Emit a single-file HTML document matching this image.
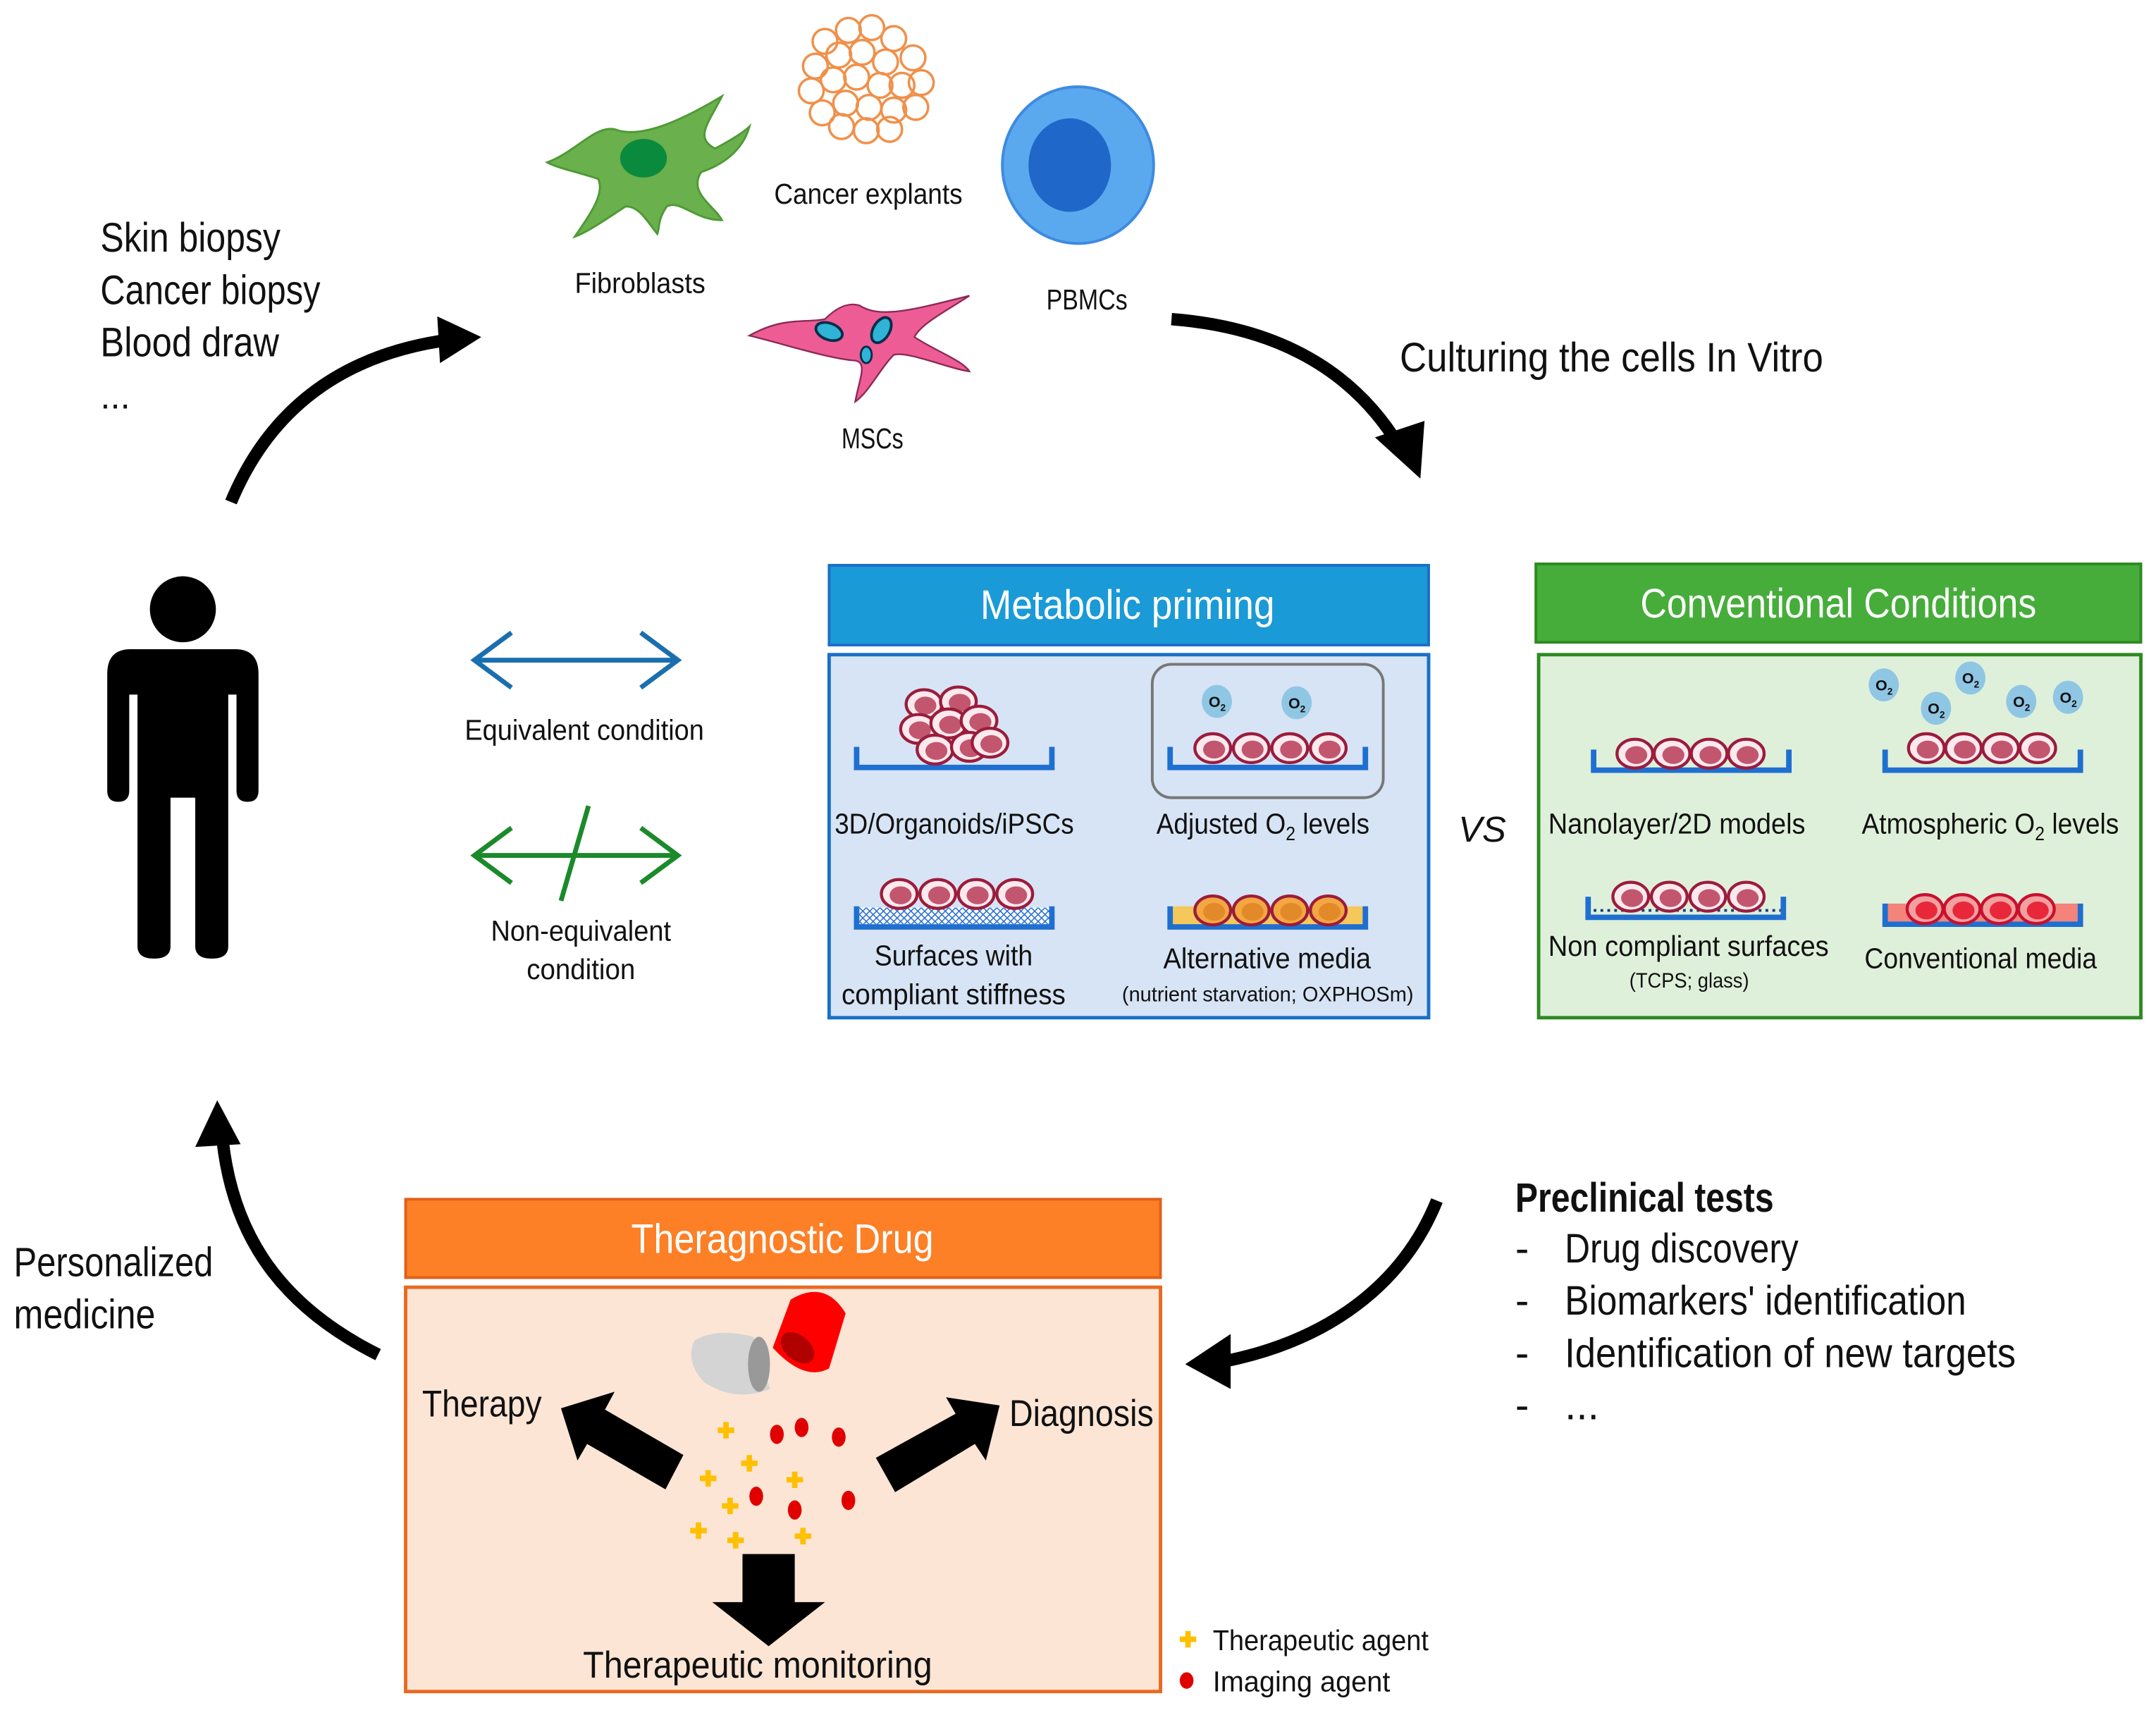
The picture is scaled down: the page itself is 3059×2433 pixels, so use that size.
<!DOCTYPE html>
<html><head><meta charset="utf-8"><style>
html,body{margin:0;padding:0;background:#fff}
svg{display:block}
text{font-family:"Liberation Sans Narrow","Liberation Sans",sans-serif;fill:#111}
</style></head><body>
<svg width="3059" height="2433" viewBox="0 0 1568 1247" xmlns="http://www.w3.org/2000/svg">
<defs>
<g id="cell"><ellipse cx="0" cy="0" rx="13" ry="10.5" fill="#fbe9ee" stroke="#9b1c3c" stroke-width="2.2"/><ellipse cx="1" cy="1" rx="8" ry="6.5" fill="#c2566f"/></g>
<g id="cello"><ellipse cx="0" cy="0" rx="13" ry="10.5" fill="#f4a640" stroke="#9b1c3c" stroke-width="2.2"/><ellipse cx="1" cy="1" rx="8" ry="6.5" fill="#e28a2a"/></g>
<g id="cellr"><ellipse cx="0" cy="0" rx="13" ry="10.5" fill="#f2a0a0" stroke="#c8102e" stroke-width="2.2"/><ellipse cx="1" cy="1" rx="8" ry="6.5" fill="#e8283a"/></g>
<g id="o2"><ellipse cx="0" cy="0" rx="11" ry="12" fill="#8fc6e4"/><text x="-6" y="4" style="font-size:11px;font-weight:bold">O<tspan style="font-size:7px" dy="3">2</tspan></text></g>
<pattern id="hatch" width="5" height="5" patternUnits="userSpaceOnUse"><rect width="5" height="5" fill="#fff"/><path d="M0,0L5,5M5,0L0,5" stroke="#2a6fd0" stroke-width="0.8"/></pattern>
<g id="dish"><path d="M0,0 V15 H142 V0" fill="none" stroke="#1f6fd0" stroke-width="4"/></g>
<g id="plus"><path d="M-2,-6h4v4h4v4h-4v4h-4v-4h-4v-4h4z" fill="#ffc000"/></g>
</defs>

<!-- cells at top -->
<path d="M398,118 C420,110 435,88 450,95 C470,100 500,85 525,70 C515,90 505,100 520,108 C535,100 542,95 545,92 C540,110 525,120 510,125 C500,140 520,150 525,160 C505,160 495,145 485,150 C478,160 480,165 478,170 C470,160 465,150 455,150 C440,160 425,170 418,172 C430,155 440,140 435,130 C420,125 405,122 398,118Z" fill="#6ab04c" stroke="#4e9a36" stroke-width="1.5"/>
<ellipse cx="468" cy="115" rx="17" ry="14" fill="#0a8a3c"/>
<g fill="none" stroke="#f0904a" stroke-width="1.8">
<circle cx="600" cy="30" r="9"/><circle cx="617" cy="22" r="9"/><circle cx="634" cy="20" r="9"/><circle cx="650" cy="28" r="9"/><circle cx="664" cy="42" r="9"/><circle cx="593" cy="48" r="9"/><circle cx="610" cy="40" r="9"/><circle cx="627" cy="38" r="9"/><circle cx="644" cy="45" r="9"/><circle cx="670" cy="60" r="9"/><circle cx="590" cy="66" r="9"/><circle cx="606" cy="58" r="9"/><circle cx="623" cy="56" r="9"/><circle cx="640" cy="62" r="9"/><circle cx="656" cy="62" r="9"/><circle cx="598" cy="82" r="9"/><circle cx="615" cy="75" r="9"/><circle cx="632" cy="78" r="9"/><circle cx="650" cy="80" r="9"/><circle cx="666" cy="78" r="9"/><circle cx="612" cy="92" r="9"/><circle cx="630" cy="95" r="9"/><circle cx="647" cy="94" r="9"/>
</g>
<ellipse cx="784" cy="120" rx="55" ry="57" fill="#5aa8ee" stroke="#3d8ae0" stroke-width="2"/>
<ellipse cx="778" cy="120" rx="30" ry="34" fill="#1f68c9"/>
<path d="M545,244 C570,230 585,235 600,232 C610,222 618,220 625,222 C640,232 665,225 705,215 C690,225 670,235 665,245 C680,255 700,262 705,270 C690,268 660,255 650,258 C640,268 632,285 622,292 C625,275 632,262 620,262 C600,260 570,250 545,244Z" fill="#ee5c96" stroke="#8a2a55" stroke-width="1.2"/>
<ellipse cx="603" cy="241" rx="10" ry="6" fill="#2fb4d8" stroke="#0b2d4a" stroke-width="2" transform="rotate(20 603 241)"/>
<ellipse cx="641" cy="240" rx="6" ry="10" fill="#2fb4d8" stroke="#0b2d4a" stroke-width="2" transform="rotate(30 641 240)"/>
<ellipse cx="630" cy="258" rx="4" ry="6" fill="#2fb4d8" stroke="#0b2d4a" stroke-width="1.5"/>

<text x="418" y="213" textLength="95" lengthAdjust="spacingAndGlyphs" style="font-size:21px">Fibroblasts</text>
<text x="563" y="148" textLength="137" lengthAdjust="spacingAndGlyphs" style="font-size:21px">Cancer explants</text>
<text x="761" y="225" textLength="59" lengthAdjust="spacingAndGlyphs" style="font-size:21px">PBMCs</text>
<text x="612" y="326" textLength="45" lengthAdjust="spacingAndGlyphs" style="font-size:21px">MSCs</text>

<text x="73" y="183" textLength="131" lengthAdjust="spacingAndGlyphs" style="font-size:30px">Skin biopsy</text>
<text x="73" y="221" textLength="160" lengthAdjust="spacingAndGlyphs" style="font-size:30px">Cancer biopsy</text>
<text x="73" y="259" textLength="130" lengthAdjust="spacingAndGlyphs" style="font-size:30px">Blood draw</text>
<text x="73" y="297" style="font-size:26px">...</text>
<text x="1018" y="270" textLength="308" lengthAdjust="spacingAndGlyphs" style="font-size:30px">Culturing the cells In Vitro</text>

<!-- curved arrows -->
<g fill="none" stroke="#000" stroke-width="9">
<path d="M168,365 C195,300 245,260 320,248"/>
<path d="M852,232 C930,238 985,270 1018,325"/>
<path d="M1045,873 C1020,935 965,975 890,990"/>
<path d="M275,985 C205,950 170,900 162,830"/>
</g>
<path d="M318,230 L350,245 L320,264Z" fill="#000"/>
<path d="M1000,318 L1033,348 L1036,306Z" fill="#000"/>
<path d="M895,970 L862,992 L895,1010Z" fill="#000"/>
<path d="M142,834 L158,800 L175,832Z" fill="#000"/>

<!-- person -->
<circle cx="133" cy="443" r="24" fill="#000"/>
<path d="M95,472 H171 Q188,472 188,490 V575 Q188,583 180,583 Q172,583 172,575 V505 H166 V688 Q166,697 154,697 Q142,697 142,688 V580 H124 V688 Q124,697 112,697 Q100,697 100,688 V505 H94 V575 Q94,583 86,583 Q78,583 78,575 V490 Q78,472 95,472Z" fill="#000"/>

<!-- equivalence arrows -->
<g fill="none" stroke="#1b6fae" stroke-width="3.5"><path d="M348,480 H490"/><path d="M372,460 L345,480 L372,500"/><path d="M466,460 L493,480 L466,500"/></g>
<text x="338" y="538" textLength="174" lengthAdjust="spacingAndGlyphs" style="font-size:21px">Equivalent condition</text>
<g fill="none" stroke="#1b8a2a" stroke-width="3.5"><path d="M348,622 H490"/><path d="M372,602 L345,622 L372,642"/><path d="M466,602 L493,622 L466,642"/><path d="M408,655 L428,586"/></g>
<text x="357" y="684" textLength="131" lengthAdjust="spacingAndGlyphs" style="font-size:21px">Non-equivalent</text>
<text x="383" y="712" textLength="79" lengthAdjust="spacingAndGlyphs" style="font-size:21px">condition</text>

<!-- Metabolic priming -->
<rect x="603" y="411" width="436" height="58" fill="#1a9ad6" stroke="#1a6fc8" stroke-width="2"/>
<text x="713" y="450" textLength="214" lengthAdjust="spacingAndGlyphs" style="font-size:30px;fill:#fff">Metabolic priming</text>
<rect x="603" y="476" width="436" height="264" fill="#d7e4f5" stroke="#1a6fc8" stroke-width="2.5"/>
<use href="#dish" x="623" y="543"/>
<g><use href="#cell" x="672" y="512"/><use href="#cell" x="697" y="510"/><use href="#cell" x="668" y="530"/><use href="#cell" x="690" y="526"/><use href="#cell" x="712" y="524"/><use href="#cell" x="680" y="545"/><use href="#cell" x="705" y="543"/><use href="#cell" x="720" y="540"/></g>
<text x="607" y="606" textLength="174" lengthAdjust="spacingAndGlyphs" style="font-size:21px">3D/Organoids/iPSCs</text>
<rect x="838" y="483" width="168" height="97" rx="14" fill="none" stroke="#777" stroke-width="2"/>
<use href="#o2" x="885" y="510"/><use href="#o2" x="943" y="511"/>
<use href="#dish" x="851" y="543"/>
<use href="#cell" x="882" y="544"/><use href="#cell" x="910" y="544"/><use href="#cell" x="938" y="544"/><use href="#cell" x="966" y="544"/>
<text x="841" y="606" textLength="155" lengthAdjust="spacingAndGlyphs" style="font-size:21px">Adjusted O<tspan style="font-size:14px" dy="5">2</tspan><tspan dy="-5"> levels</tspan></text>
<rect x="625" y="660" width="138" height="12" fill="url(#hatch)"/>
<use href="#dish" x="623" y="659"/>
<use href="#cell" x="654" y="650"/><use href="#cell" x="682" y="650"/><use href="#cell" x="710" y="650"/><use href="#cell" x="738" y="650"/>
<text x="636" y="702" textLength="115" lengthAdjust="spacingAndGlyphs" style="font-size:21px">Surfaces with</text>
<text x="612" y="730" textLength="163" lengthAdjust="spacingAndGlyphs" style="font-size:21px">compliant stiffness</text>
<rect x="853" y="659" width="138" height="14" fill="#f5c85c"/>
<use href="#dish" x="851" y="659"/>
<use href="#cello" x="882" y="662"/><use href="#cello" x="910" y="662"/><use href="#cello" x="938" y="662"/><use href="#cello" x="966" y="662"/>
<text x="846" y="704" textLength="151" lengthAdjust="spacingAndGlyphs" style="font-size:21px">Alternative media</text>
<text x="816" y="728" textLength="212" lengthAdjust="spacingAndGlyphs" style="font-size:15px">(nutrient starvation; OXPHOSm)</text>

<text x="1078" y="612" text-anchor="middle" style="font-size:26px;font-style:italic">VS</text>

<!-- Conventional -->
<rect x="1117" y="410" width="440" height="57" fill="#46ad3a" stroke="#2e8a22" stroke-width="2"/>
<text x="1193" y="449" textLength="288" lengthAdjust="spacingAndGlyphs" style="font-size:30px;fill:#fff">Conventional Conditions</text>
<rect x="1119" y="476" width="438" height="264" fill="#dff0da" stroke="#2e8a22" stroke-width="2.5"/>
<use href="#dish" x="1159" y="545"/>
<use href="#cell" x="1189" y="548"/><use href="#cell" x="1216" y="548"/><use href="#cell" x="1243" y="548"/><use href="#cell" x="1270" y="548"/>
<text x="1126" y="606" textLength="187" lengthAdjust="spacingAndGlyphs" style="font-size:21px">Nanolayer/2D models</text>
<use href="#o2" x="1370" y="498"/><use href="#o2" x="1408" y="515"/><use href="#o2" x="1433" y="493"/><use href="#o2" x="1470" y="510"/><use href="#o2" x="1504" y="507"/>
<use href="#dish" x="1371" y="545"/>
<use href="#cell" x="1401" y="544"/><use href="#cell" x="1428" y="544"/><use href="#cell" x="1455" y="544"/><use href="#cell" x="1482" y="544"/>
<text x="1354" y="606" textLength="187" lengthAdjust="spacingAndGlyphs" style="font-size:21px">Atmospheric O<tspan style="font-size:14px" dy="5">2</tspan><tspan dy="-5"> levels</tspan></text>
<path d="M1159,662 H1295" stroke="#1a3a80" stroke-width="2" stroke-dasharray="2 3"/>
<use href="#dish" x="1155" y="652"/>
<use href="#cell" x="1186" y="652"/><use href="#cell" x="1214" y="652"/><use href="#cell" x="1242" y="652"/><use href="#cell" x="1270" y="652"/>
<text x="1126" y="695" textLength="204" lengthAdjust="spacingAndGlyphs" style="font-size:21px">Non compliant surfaces</text>
<text x="1185" y="718" textLength="87" lengthAdjust="spacingAndGlyphs" style="font-size:15px">(TCPS; glass)</text>
<rect x="1373" y="657" width="138" height="13" fill="#f4837a"/>
<use href="#dish" x="1371" y="657"/>
<use href="#cellr" x="1400" y="661"/><use href="#cellr" x="1427" y="661"/><use href="#cellr" x="1454" y="661"/><use href="#cellr" x="1481" y="661"/>
<text x="1356" y="704" textLength="169" lengthAdjust="spacingAndGlyphs" style="font-size:21px">Conventional media</text>

<!-- Preclinical -->
<text x="1102" y="881" textLength="188" lengthAdjust="spacingAndGlyphs" style="font-size:30px;font-weight:bold">Preclinical tests</text>
<g style="font-size:30px">
<text x="1102" y="918">-</text><text x="1138" y="918" textLength="170" lengthAdjust="spacingAndGlyphs">Drug discovery</text>
<text x="1102" y="956">-</text><text x="1138" y="956" textLength="292" lengthAdjust="spacingAndGlyphs">Biomarkers' identification</text>
<text x="1102" y="994">-</text><text x="1138" y="994" textLength="328" lengthAdjust="spacingAndGlyphs">Identification of new targets</text>
<text x="1102" y="1032">-</text><text x="1138" y="1032">...</text>
</g>
<text x="10" y="928" textLength="145" lengthAdjust="spacingAndGlyphs" style="font-size:30px">Personalized</text>
<text x="10" y="966" textLength="103" lengthAdjust="spacingAndGlyphs" style="font-size:30px">medicine</text>

<!-- Theragnostic -->
<rect x="295" y="872" width="549" height="57" fill="#fd7f26" stroke="#e0601a" stroke-width="2"/>
<text x="459" y="911" textLength="220" lengthAdjust="spacingAndGlyphs" style="font-size:30px;fill:#fff">Theragnostic Drug</text>
<rect x="295" y="936" width="549" height="294" fill="#fde5d5" stroke="#e86a20" stroke-width="2.5"/>
<path d="M505,975 Q520,965 548,972 L560,1010 Q535,1020 512,1005 Q498,990 505,975Z" fill="#d4d4d4"/>
<ellipse cx="552" cy="992" rx="8" ry="20" fill="#999"/>
<path d="M575,945 Q600,930 615,955 L603,995 Q585,1005 562,980 Z" fill="#ff0000"/>
<ellipse cx="580" cy="980" rx="14" ry="9" fill="#b00000" transform="rotate(40 580 980)"/>
<path d="M497,1058 L440,1025 L447,1012 L408,1024 L420,1062 L427,1050 L484,1083Z" fill="#000"/>
<path d="M637,1060 L695,1028 L688,1016 L727,1022 L717,1062 L709,1050 L651,1085Z" fill="#000"/>
<path d="M540,1130 H578 V1165 H600 L559,1197 L518,1165 H540Z" fill="#000"/>
<text x="307" y="1030" textLength="87" lengthAdjust="spacingAndGlyphs" style="font-size:27px">Therapy</text>
<text x="734" y="1037" textLength="105" lengthAdjust="spacingAndGlyphs" style="font-size:27px">Diagnosis</text>
<text x="424" y="1220" textLength="254" lengthAdjust="spacingAndGlyphs" style="font-size:27px">Therapeutic monitoring</text>
<use href="#plus" x="528" y="1040"/><use href="#plus" x="545" y="1064"/><use href="#plus" x="515" y="1075"/><use href="#plus" x="578" y="1076"/><use href="#plus" x="531" y="1095"/><use href="#plus" x="508" y="1113"/><use href="#plus" x="535" y="1120"/><use href="#plus" x="584" y="1117"/>
<g fill="#e00000"><ellipse cx="565" cy="1043" rx="5" ry="7"/><ellipse cx="583" cy="1038" rx="5" ry="7"/><ellipse cx="610" cy="1045" rx="5" ry="7"/><ellipse cx="550" cy="1088" rx="5" ry="7"/><ellipse cx="578" cy="1098" rx="5" ry="7"/><ellipse cx="617" cy="1091" rx="5" ry="7"/></g>
<use href="#plus" x="864" y="1192"/>
<text x="882" y="1200" textLength="157" lengthAdjust="spacingAndGlyphs" style="font-size:21px">Therapeutic agent</text>
<ellipse cx="863" cy="1222" rx="5" ry="6" fill="#e00000"/>
<text x="882" y="1230" textLength="129" lengthAdjust="spacingAndGlyphs" style="font-size:21px">Imaging agent</text>
</svg>
</body></html>
